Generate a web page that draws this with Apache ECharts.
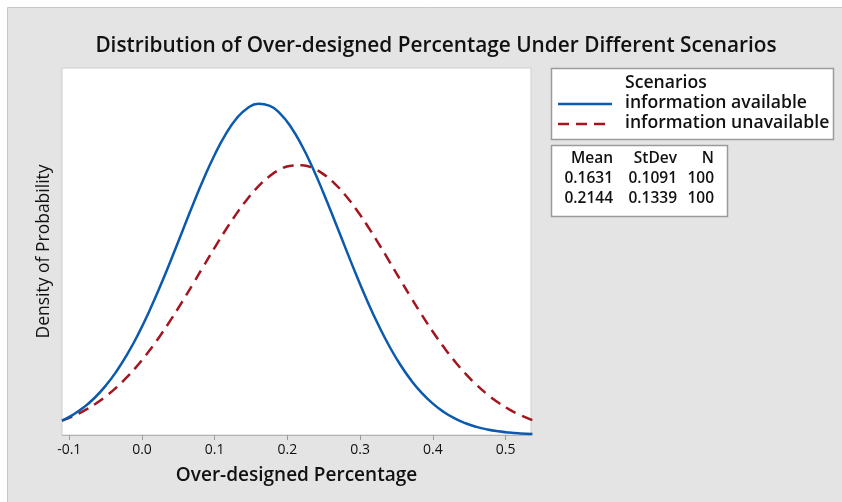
<!DOCTYPE html>
<html>
<head>
<meta charset="utf-8">
<style>
  html, body { margin: 0; padding: 0; background: #ffffff; }
  #chart { width: 842px; height: 502px; }
</style>
<script src="https://cdn.jsdelivr.net/npm/echarts@6/dist/echarts.min.js"></script>
</head>
<body>
<div id="chart"></div>
<script>
// Sample positions along the over-designed percentage axis
const xValues = [-0.11, -0.095, -0.08, -0.065, -0.05, -0.035, -0.02, -0.005, 0.01, 0.025, 0.04, 0.055,
                 0.07, 0.085, 0.10, 0.115, 0.13, 0.145, 0.16, 0.175, 0.19, 0.205, 0.22, 0.235,
                 0.25, 0.265, 0.28, 0.295, 0.31, 0.325, 0.34, 0.355, 0.37, 0.385, 0.40, 0.415,
                 0.43, 0.445, 0.46, 0.475, 0.49, 0.505, 0.52, 0.537];
// Fitted density, information available
const availableDensity = [0.1594, 0.2227, 0.3055, 0.4111, 0.5428, 0.7033, 0.8942, 1.1157, 1.3661, 1.6412,
                          1.9347, 2.2382, 2.5408, 2.8300, 3.0934, 3.3179, 3.4921, 3.6066, 3.6551, 3.6349,
                          3.5471, 3.3967, 3.1916, 2.9428, 2.6627, 2.3639, 2.0596, 1.7607, 1.4770, 1.2159,
                          0.9822, 0.7784, 0.6055, 0.4622, 0.3461, 0.2544, 0.1835, 0.1298, 0.0901, 0.0614,
                          0.0411, 0.0269, 0.0173, 0.0103];
// Fitted density, information unavailable
const unavailableDensity = [0.1583, 0.2064, 0.2657, 0.3378, 0.4241, 0.5258, 0.6437, 0.7783, 0.9292, 1.0956,
                            1.2757, 1.4669, 1.6656, 1.8678, 2.0683, 2.2618, 2.4426, 2.6049, 2.7434, 2.8532,
                            2.9304, 2.9721, 2.9768, 2.9444, 2.8760, 2.7741, 2.6425, 2.4857, 2.3090, 2.1183,
                            1.9190, 1.7168, 1.5167, 1.3232, 1.1400, 0.9700, 0.8150, 0.6762, 0.5541, 0.4483,
                            0.3582, 0.2827, 0.2203, 0.1636];
const seriesNames = ['information available', 'information unavailable'];
const xTicks = [-0.1, 0.0, 0.1, 0.2, 0.3, 0.4, 0.5];
const statHeader = ['Mean', 'StDev', 'N'];
const statRows = [
  ['0.1631', '0.1091', '100'],
  ['0.2144', '0.1339', '100']
];

const FONT = '"Open Sans", "Noto Sans", sans-serif';
const BLUE = '#0b5aad';
const RED = '#a3161f';

const pair = (ys) => xValues.map((x, i) => [x, ys[i]]);

// Legend and summary table drawn as graphic elements
const legendX = 551, legendY = 68;
const legendFont = '600 17.6px ' + FONT;
const tableFont = '600 15.5px ' + FONT;
const graphics = [
  { type: 'rect', z: -10, silent: true,
    shape: { x: 7.5, y: 7.5, width: 842, height: 502 },
    style: { fill: '#e4e4e4', stroke: '#c6c6c6', lineWidth: 1 } },
  { type: 'rect', z: 1,
    shape: { x: legendX + 0.5, y: legendY + 0.5, width: 282, height: 71 },
    style: { fill: '#ffffff', stroke: '#9a9a9a', lineWidth: 1.5 } },
  { type: 'text', z: 2, x: 625, y: 83,
    style: { text: 'Scenarios', font: legendFont, fill: '#111', verticalAlign: 'middle' } },
  { type: 'line', z: 2, shape: { x1: 558, y1: 104, x2: 612, y2: 104 },
    style: { stroke: BLUE, lineWidth: 2.5 } },
  { type: 'text', z: 2, x: 625, y: 103,
    style: { text: seriesNames[0], font: legendFont, fill: '#111', verticalAlign: 'middle' } },
  { type: 'line', z: 2, shape: { x1: 558, y1: 124, x2: 612, y2: 124 },
    style: { stroke: RED, lineWidth: 2.5, lineDash: [11, 7] } },
  { type: 'text', z: 2, x: 625, y: 123,
    style: { text: seriesNames[1], font: legendFont, fill: '#111', verticalAlign: 'middle' } },
  { type: 'rect', z: 1,
    shape: { x: legendX + 0.5, y: 145.5, width: 176, height: 71 },
    style: { fill: '#ffffff', stroke: '#9a9a9a', lineWidth: 1.5 } }
];
const colRight = [613, 677, 714];
const rowY = [159, 179, 199];
[statHeader].concat(statRows).forEach((row, r) => {
  row.forEach((cell, c) => {
    graphics.push({ type: 'text', z: 2, x: colRight[c], y: rowY[r],
      style: { text: cell, font: tableFont, fill: '#111', align: 'right', verticalAlign: 'middle' } });
  });
});

const chart = echarts.init(document.getElementById('chart'), null, { renderer: 'canvas' });
chart.setOption({
  animation: false,
  backgroundColor: 'transparent',
  title: {
    text: 'Distribution of Over-designed Percentage Under Different Scenarios',
    left: 431, top: 31, textAlign: 'center',
    textStyle: { fontFamily: FONT, fontSize: 20.8, fontWeight: 600, color: '#111' }
  },
  grid: {
    left: 62, top: 68, width: 469, height: 367,
    show: true, backgroundColor: '#ffffff', borderColor: '#cfcfcf', borderWidth: 1
  },
  xAxis: {
    type: 'value', min: -0.11, max: 0.535,
    name: 'Over-designed Percentage', nameLocation: 'middle', nameGap: 31,
    nameTextStyle: { fontFamily: FONT, fontSize: 19, fontWeight: 600, color: '#111' },
    axisLine: { show: true, lineStyle: { color: '#b4b4b4', width: 1 } },
    axisTick: { show: true, length: 5, customValues: xTicks, lineStyle: { color: '#9a9a9a' } },
    axisLabel: { customValues: xTicks, formatter: (v) => v.toFixed(1), margin: 8,
                 fontFamily: FONT, fontSize: 14, fontWeight: 500, color: '#111' },
    splitLine: { show: false }
  },
  yAxis: {
    type: 'value', min: 0, max: 4.05,
    name: 'Density of Probability', nameLocation: 'middle', nameGap: 9,
    nameTextStyle: { fontFamily: FONT, fontSize: 17.5, fontWeight: 500, color: '#111' },
    axisLine: { show: false }, axisTick: { show: false },
    axisLabel: { show: false }, splitLine: { show: false }
  },
  series: [
    { name: seriesNames[1], type: 'line', data: pair(unavailableDensity), smooth: true,
      showSymbol: false, lineStyle: { color: RED, width: 2.5, type: [11, 7] }, z: 3 },
    { name: seriesNames[0], type: 'line', data: pair(availableDensity), smooth: true,
      showSymbol: false, lineStyle: { color: BLUE, width: 2.5 }, z: 4 }
  ],
  graphic: graphics
});
</script>
</body>
</html>
